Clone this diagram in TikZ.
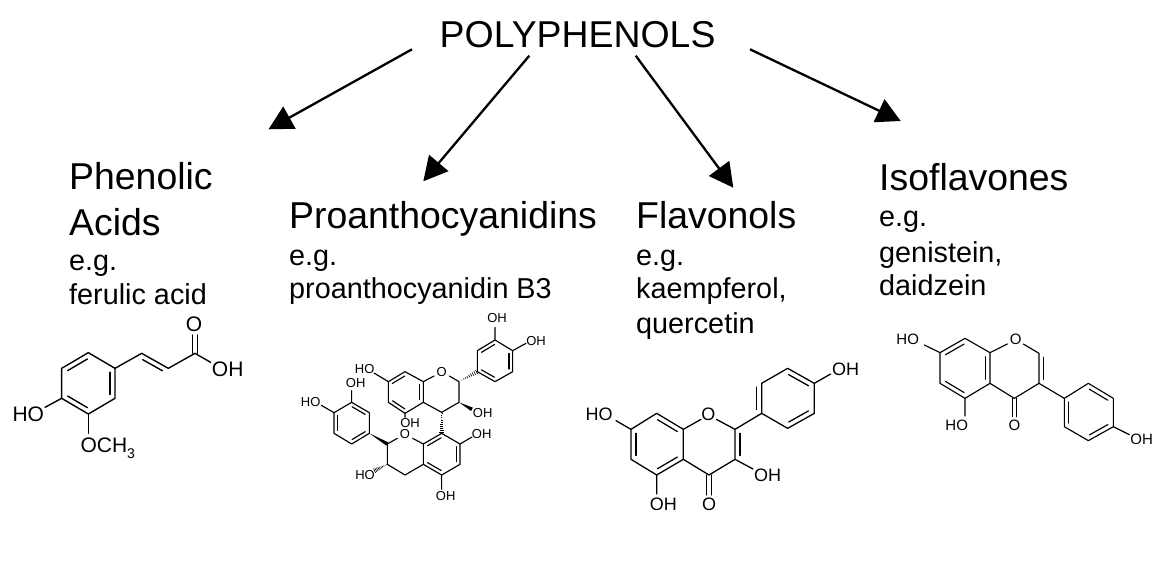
\documentclass[tikz,border=0pt]{standalone}
\usepackage{fontspec}
\setmainfont{Liberation Sans}
\usetikzlibrary{arrows.meta,calc}
\tikzset{
  heading/.style={anchor=base west,inner sep=0pt,font=\fontsize{37.4}{37.4}\selectfont},
  subtext/.style={anchor=base west,inner sep=0pt,font=\fontsize{28.8}{28.8}\selectfont},
  atom/.style={inner sep=0pt,font=\fontsize{#1}{#1}\selectfont},
  bigarrow/.style={line width=2.3pt,-{Triangle[length=24pt,width=25pt]}},
  bond/.style={line width=#1,line cap=round,line join=round},
  bond/.default=1.3pt
}
\newcommand{\dbll}[2]{\draw[bond=\bw] ($(#1)!.13!(#2)!\dg!90:(#2)$) -- ($(#2)!.13!(#1)!\dg!-90:(#1)$);}
\newcommand{\dblr}[2]{\draw[bond=\bw] ($(#1)!.13!(#2)!\dg!-90:(#2)$) -- ($(#2)!.13!(#1)!\dg!90:(#1)$);}
\newcommand{\twin}[2]{\draw[bond=\bw] ($(#1)!.5*\dg!90:(#2)$) -- ($(#2)!.5*\dg!-90:(#1)$);\draw[bond=\bw] ($(#1)!.5*\dg!-90:(#2)$) -- ($(#2)!.5*\dg!90:(#1)$);}
\newcommand{\wedgeb}[2]{\fill ($(#1)$) -- ($(#2)!1.9pt!90:(#1)$) -- ($(#2)!1.9pt!-90:(#1)$) -- cycle;}
\newcommand{\hashb}[2]{\foreach \t in {0.06,0.16,...,1.0}{\draw[line width=.6pt] ($(#1)!\t!(#2)!\t*2.4pt!90:(#2)$) -- ($(#1)!\t!(#2)!\t*2.4pt!-90:(#2)$);}}
\begin{document}
\begin{tikzpicture}[x=1pt,y=-1pt]
\useasboundingbox (0,0) rectangle (1166,567);
\fill[white] (0,0) rectangle (1166,567);

% headings and captions
\node[heading] (title) at (439.5,48) {POLYPHENOLS};
\node[heading] (pa1) at (69,189) {Phenolic};
\node[heading] (pa2) at (69,235) {Acids};
\node[subtext] (pa3) at (69,270) {e.g.};
\node[subtext] (pa4) at (69,304) {ferulic acid};
\node[heading] (pc1) at (289,228.5) {Proanthocyanidins};
\node[subtext] (pc2) at (289,265) {e.g.};
\node[subtext] (pc3) at (289,298) {proanthocyanidin B3};
\node[heading] (fv1) at (636,228.5) {Flavonols};
\node[subtext] (fv2) at (636,265) {e.g.};
\node[subtext] (fv3) at (636,298) {kaempferol,};
\node[subtext] (fv4) at (636,333) {quercetin};
\node[heading] (if1) at (879,190) {Isoflavones};
\node[subtext] (if2) at (879,226) {e.g.};
\node[subtext] (if3) at (879,262) {genistein,};
\node[subtext] (if4) at (879,295) {daidzein};

% arrows
\coordinate (t1) at (412,49.3);   \coordinate (h1) at (268.5,129.3);
\coordinate (t2) at (529.3,55.7); \coordinate (h2) at (423.3,181.3);
\coordinate (t3) at (635.7,55.7); \coordinate (h3) at (733.3,187.7);
\coordinate (t4) at (750,49.3);   \coordinate (h4) at (900.7,121);
\draw[bigarrow] (t1) -- (h1);
\draw[bigarrow] (t2) -- (h2);
\draw[bigarrow] (t3) -- (h3);
\draw[bigarrow] (t4) -- (h4);

% ---------- ferulic acid
\begin{scope}[shift={(0,300)},x=.33333pt,y=-.33333pt]
\def\bw{1.4pt}\def\dg{5pt}
\path (265,158) coordinate (a1) (345,205) coordinate (a2) (345,295) coordinate (a3)
      (265,342) coordinate (a4) (185,295) coordinate (a5) (185,205) coordinate (a6)
      (425,160) coordinate (a7) (505,205) coordinate (a8) (585,160) coordinate (a9)
      (585,105) coordinate (a10) (632,187) coordinate (a11) (135,322) coordinate (a12)
      (265,400) coordinate (a13);
\draw[bond=\bw] (a1)--(a2)--(a3)--(a4)--(a5)--(a6)--cycle;
\draw[bond=\bw] (a2)--(a7)--(a8)--(a9)--(a11);
\draw[bond=\bw] (a5)--(a12);
\draw[bond=\bw] (a4)--(a13);
\dblr{a6}{a1} \dblr{a2}{a3} \dblr{a4}{a5} \dblr{a7}{a8}
\twin{a9}{a10}
\node[atom=21] (aO) at (582,72) {O};
\node[atom=21] (aOH) at (683,208) {OH};
\node[atom=21] (aHO) at (85,343) {HO};
\node[atom=21,anchor=base west] (aOMe) at (241,458) {OCH\raisebox{-.28em}{\fontsize{14}{14}\selectfont 3}};
\end{scope}

% ---------- proanthocyanidin B3
\begin{scope}[shift={(290,330)},x=.33333pt,y=-.33333pt]
\def\bw{1.15pt}\def\dg{3.6pt}
\path (295,155) coordinate (b1) (345,125) coordinate (b2) (400,155) coordinate (b3)
      (400,217) coordinate (b4) (345,250) coordinate (b5) (295,217) coordinate (b6)
      (432,138) coordinate (b7) (478,138) coordinate (b7r) (507,155) coordinate (b8) (507,217) coordinate (b9) (455,247) coordinate (b10)
      (562,125) coordinate (c1) (562,62) coordinate (c2) (615,30) coordinate (c3)
      (668,62) coordinate (c4) (668,125) coordinate (c5) (615,155) coordinate (c6)
      (615,-8) coordinate (c7) (708,40) coordinate (c8)
      (252,129) coordinate (b11) (345,262) coordinate (b12) (546,238) coordinate (b13)
      (455,310) coordinate (d1) (510,342) coordinate (d2) (510,403) coordinate (d3)
      (455,435) coordinate (d4) (400,403) coordinate (d5) (400,342) coordinate (d6)
      (368,325) coordinate (d7) (322,325) coordinate (d7l) (292,342) coordinate (d8) (292,403) coordinate (d9) (345,435) coordinate (d10)
      (546,321) coordinate (d11) (455,478) coordinate (d12) (252,423) coordinate (d13)
      (238,310) coordinate (e1) (238,248) coordinate (e2) (185,217) coordinate (e3)
      (132,248) coordinate (e4) (132,310) coordinate (e5) (185,342) coordinate (e6)
      (185,182) coordinate (e7) (94,226) coordinate (e8);
\draw[bond=\bw] (b1)--(b2)--(b3)--(b4)--(b5)--(b6)--cycle;
\draw[bond=\bw] (b3)--(b7) (b7r)--(b8)--(b9)--(b10)--(b4);
\draw[bond=\bw] (c1)--(c2)--(c3)--(c4)--(c5)--(c6)--cycle;
\draw[bond=\bw] (c3)--(c7) (c4)--(c8) (b1)--(b11) (b5)--(b12);
\draw[bond=\bw] (d1)--(d2)--(d3)--(d4)--(d5)--(d6)--cycle;
\draw[bond=\bw] (d6)--(d7) (d7l)--(d8)--(d9)--(d10)--(d5);
\draw[bond=\bw] (d2)--(d11) (d4)--(d12);
\draw[bond=\bw] (e1)--(e2)--(e3)--(e4)--(e5)--(e6)--cycle;
\draw[bond=\bw] (e3)--(e7) (e4)--(e8);
\dblr{b1}{b2} \dblr{b3}{b4} \dblr{b5}{b6}
\dblr{c2}{c3} \dblr{c4}{c5} \dblr{c6}{c1}
\dblr{d6}{d1} \dblr{d2}{d3} \dblr{d4}{d5}
\dblr{e3}{e2} \dblr{e1}{e6} \dblr{e5}{e4}
\wedgeb{b9}{b13}
\wedgeb{e1}{d8}
\hashb{b8}{c1}
\hashb{b10}{d1}
\hashb{d9}{d13}
\node[atom=13] (bO) at (455,125) {O};
\node[atom=13] (bHO) at (224,118) {HO};
\node[atom=13] (bOH1) at (360,278) {OH};
\node[atom=13] (bOH2) at (578,248) {OH};
\node[atom=13] (bOH3) at (738,32) {OH};
\node[atom=13] (bOH4) at (621,-36) {OH};
\node[atom=13] (dO) at (345,312) {O};
\node[atom=13] (dOH1) at (575,312) {OH};
\node[atom=13] (dOH2) at (467,497) {OH};
\node[atom=13] (dHO) at (225,435) {HO};
\node[atom=13] (eOH) at (197,158) {OH};
\node[atom=13] (eHO) at (62,217) {HO};
\end{scope}

% ---------- kaempferol
\begin{scope}[shift={(575,350)},x=.33333pt,y=-.33333pt]
\def\bw{1.3pt}\def\dg{5pt}
\path (168,238) coordinate (f1) (245,190) coordinate (f2) (325,238) coordinate (f3)
      (325,328) coordinate (f4) (245,375) coordinate (f5) (168,328) coordinate (f6)
      (378,208) coordinate (f7) (424,208) coordinate (f7r) (480,238) coordinate (f8) (480,328) coordinate (f9) (402,375) coordinate (f10)
      (402,435) coordinate (f11) (560,190) coordinate (g1) (560,100) coordinate (g2)
      (638,55) coordinate (g3) (718,100) coordinate (g4) (718,190) coordinate (g5)
      (638,235) coordinate (g6) (767,72) coordinate (g7) (123,212) coordinate (f12)
      (245,432) coordinate (f13) (534,357) coordinate (f14);
\draw[bond=\bw] (f1)--(f2)--(f3)--(f4)--(f5)--(f6)--cycle;
\draw[bond=\bw] (f3)--(f7) (f7r)--(f8)--(f9)--(f10)--(f4);
\draw[bond=\bw] (g1)--(g2)--(g3)--(g4)--(g5)--(g6)--cycle;
\draw[bond=\bw] (f8)--(g1) (g4)--(g7) (f1)--(f12) (f5)--(f13) (f9)--(f14);
\dblr{f6}{f1} \dblr{f2}{f3} \dblr{f4}{f5} \dblr{f9}{f8}
\dblr{g2}{g1} \dblr{g3}{g4} \dblr{g5}{g6}
\twin{f10}{f11}
\node[atom=18] (fO) at (400,193) {O};
\node[atom=18] (fHO) at (72,193) {HO};
\node[atom=18] (fOH1) at (812,58) {OH};
\node[atom=18] (fOH2) at (578,375) {OH};
\node[atom=18] (fOH3) at (265,462) {OH};
\node[atom=18] (fO2) at (402,463) {O};
\end{scope}

% ---------- genistein
\begin{scope}[shift={(885,320)},x=.33333pt,y=-.33333pt]
\def\bw{1.15pt}\def\dg{4.5pt}
\path (165,98) coordinate (h1x) (240,55) coordinate (h2x) (315,98) coordinate (h3x)
      (315,190) coordinate (h4x) (240,235) coordinate (h5x) (165,190) coordinate (h6x)
      (367,72) coordinate (h7x) (415,72) coordinate (h7r) (462,100) coordinate (h8x) (462,190) coordinate (h9x) (388,235) coordinate (h10x)
      (388,290) coordinate (h11x) (538,235) coordinate (j1) (610,190) coordinate (j2)
      (685,235) coordinate (j3) (685,320) coordinate (j4) (610,362) coordinate (j5)
      (538,320) coordinate (j6) (733,344) coordinate (j7) (118,75) coordinate (h12x)
      (240,288) coordinate (h13x);
\draw[bond=\bw] (h1x)--(h2x)--(h3x)--(h4x)--(h5x)--(h6x)--cycle;
\draw[bond=\bw] (h3x)--(h7x) (h7r)--(h8x)--(h9x)--(h10x)--(h4x);
\draw[bond=\bw] (j1)--(j2)--(j3)--(j4)--(j5)--(j6)--cycle;
\draw[bond=\bw] (h9x)--(j1) (j4)--(j7) (h1x)--(h12x) (h5x)--(h13x);
\dblr{h1x}{h2x} \dblr{h3x}{h4x} \dblr{h5x}{h6x} \dblr{h9x}{h8x}
\dblr{j2}{j3} \dblr{j4}{j5} \dblr{j6}{j1}
\twin{h10x}{h11x}
\node[atom=15] (iO) at (392,58) {O};
\node[atom=15] (iHO) at (68,57) {HO};
\node[atom=15] (iHO2) at (215,315) {HO};
\node[atom=15] (iOH) at (770,358) {OH};
\node[atom=15] (iO2) at (388,315) {O};
\end{scope}
\end{tikzpicture}
\end{document}
